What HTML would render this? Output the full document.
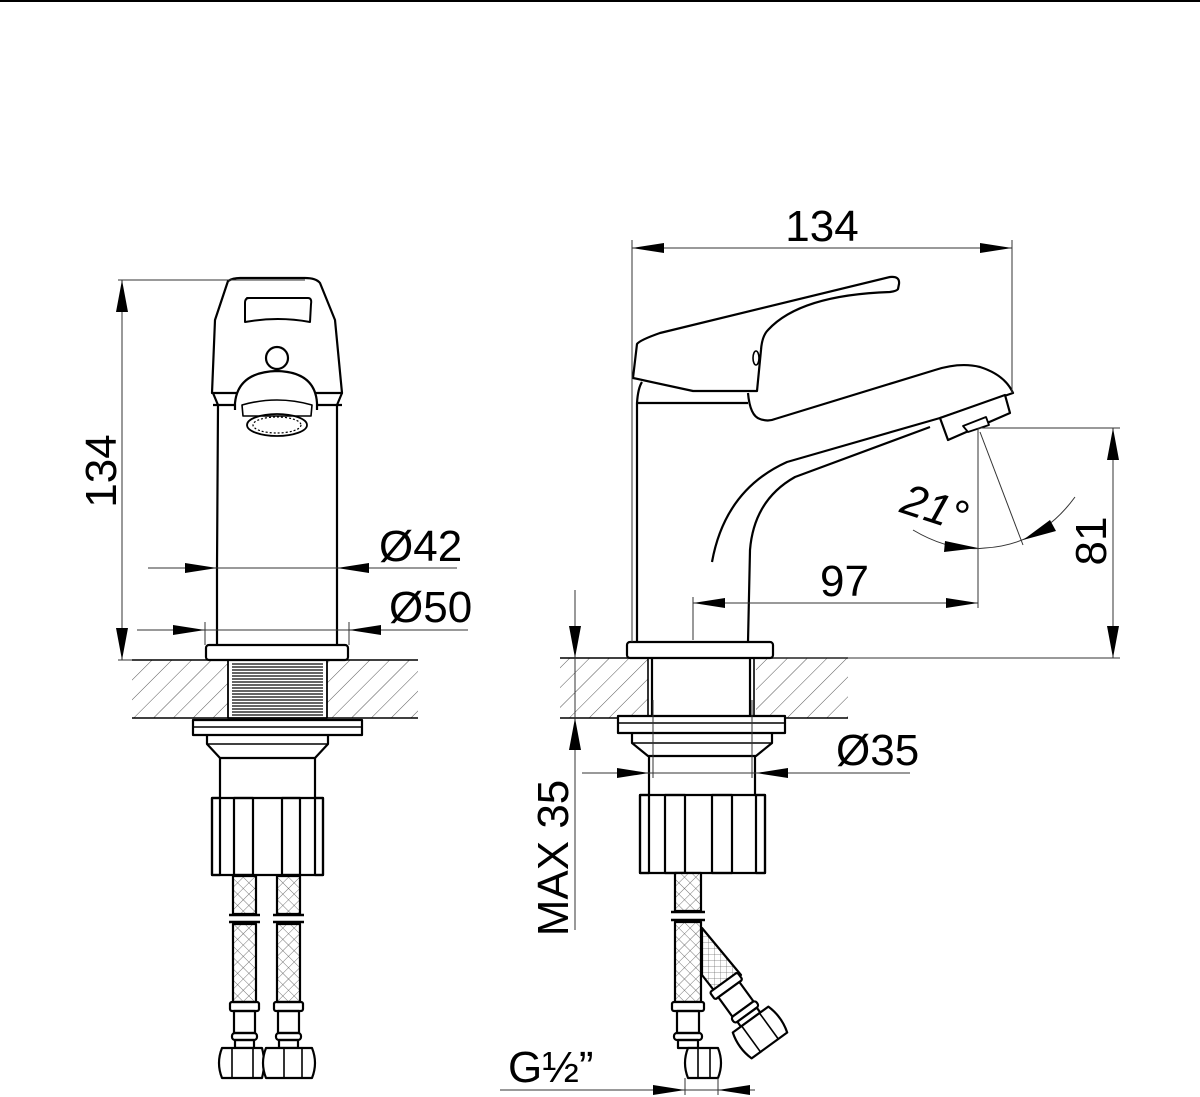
<!DOCTYPE html>
<html><head><meta charset="utf-8"><style>
html,body{margin:0;padding:0;background:#fff;}
svg{display:block;}
text{font-family:"Liberation Sans",sans-serif;fill:#000;}
</style></head><body>
<svg width="1200" height="1097" viewBox="0 0 1200 1097" xmlns="http://www.w3.org/2000/svg">
<defs>
<pattern id="hatch" width="14" height="14" patternUnits="userSpaceOnUse" patternTransform="rotate(45)">
<line x1="0" y1="0" x2="0" y2="14" stroke="#444" stroke-width="0.9"/>
</pattern>
<pattern id="mesh" width="8" height="8" patternUnits="userSpaceOnUse" patternTransform="rotate(45)">
<rect width="8" height="8" fill="#fff"/>
<line x1="0" y1="0" x2="0" y2="8" stroke="#555" stroke-width="0.8"/>
<line x1="0" y1="0" x2="8" y2="0" stroke="#555" stroke-width="0.8"/>
</pattern>
<pattern id="mesh2" width="6" height="6" patternUnits="userSpaceOnUse">
<rect width="6" height="6" fill="#fff"/>
<line x1="0" y1="0" x2="0" y2="6" stroke="#666" stroke-width="0.7"/>
<line x1="0" y1="0" x2="6" y2="0" stroke="#666" stroke-width="0.7"/>
</pattern>
<pattern id="thread" width="4" height="3" patternUnits="userSpaceOnUse">
<rect width="4" height="3" fill="#fff"/>
<line x1="0" y1="1" x2="4" y2="1" stroke="#222" stroke-width="1.4"/>
</pattern>
</defs>
<line x1="0" y1="1" x2="1200" y2="1" stroke="#000" stroke-width="2"/>

<g fill="none" stroke="#000" stroke-width="2.2" stroke-linejoin="round">
<!-- ============ LEFT VIEW ============ -->
<rect x="132" y="660" width="286" height="58" fill="url(#hatch)" stroke="none"/>
<line x1="132" y1="660" x2="418" y2="660" stroke-width="1.6"/>
<line x1="132" y1="718" x2="418" y2="718" stroke-width="1.6"/>
<rect x="228" y="660" width="99" height="58" fill="#fff" stroke-width="1.8"/>
<rect x="232" y="662" width="91" height="54" fill="url(#thread)" stroke="none"/>
<path d="M228,281 Q233,278 240,278 L305,278 Q316,278 320,283 L335,320 L342,393 L212,393 L215,320 Z" fill="#fff"/>
<path d="M247,298 L308,298 Q312,298 311,304 L310,322 Q278,316 245,322 L245,303 Q245,298 249,298 Z" stroke-width="2"/>
<circle cx="277" cy="358" r="11" fill="#fff"/>
<path d="M213,393 L218,405 L217,567 L217,645"/>
<path d="M342,393 L337,405 L337,567 L337,645"/>
<line x1="213" y1="405" x2="236" y2="405"/>
<line x1="318" y1="405" x2="342" y2="405"/>
<path d="M235,410 L235,403 Q238,372 277,371 Q315,372 317,403 L317,410" fill="#fff"/>
<path d="M242,405 Q277,395 312,405 L311,416 L243,416 Z" stroke-width="1.6"/>
<ellipse cx="277" cy="425" rx="30" ry="11" stroke-width="1.8"/>
<ellipse cx="277" cy="425" rx="24" ry="8" stroke-width="1.2" stroke-dasharray="2 2"/>
<rect x="206" y="645" width="142" height="15" rx="3" fill="#fff"/>
<rect x="193" y="720" width="169" height="15" fill="#fff"/>
<line x1="193" y1="727" x2="362" y2="727" stroke-width="1.4"/>
<path d="M207,735 L207,744 L220,758 L315,758 L328,744 L328,735"/>
<line x1="207" y1="744" x2="328" y2="744" stroke-width="1.6"/>
<line x1="220" y1="758" x2="220" y2="798"/>
<line x1="315" y1="758" x2="315" y2="798"/>
<rect x="212" y="798" width="111" height="77" fill="#fff"/>
<rect x="212" y="798" width="8" height="77"/>
<rect x="234" y="798" width="19" height="77"/>
<rect x="282" y="798" width="18" height="77"/>
<rect x="315" y="798" width="8" height="77"/>
<g>
<rect x="233" y="876" width="23" height="38" fill="url(#mesh)"/>
<rect x="277" y="876" width="23" height="38" fill="url(#mesh)"/>
<line x1="229" y1="915" x2="260" y2="915" stroke-width="2.5"/>
<line x1="273" y1="915" x2="304" y2="915" stroke-width="2.5"/>
<line x1="229" y1="922" x2="260" y2="922" stroke-width="2.5"/>
<line x1="273" y1="922" x2="304" y2="922" stroke-width="2.5"/>
<rect x="233" y="924" width="23" height="78" fill="url(#mesh)"/>
<rect x="277" y="924" width="23" height="78" fill="url(#mesh)"/>
<rect x="230" y="1002" width="29" height="9" rx="2"/>
<rect x="274" y="1002" width="29" height="9" rx="2"/>
<rect x="234" y="1011" width="21" height="22"/>
<rect x="278" y="1011" width="21" height="22"/>
<rect x="232" y="1033" width="25" height="7" rx="3"/>
<rect x="276" y="1033" width="25" height="7" rx="3"/>
<rect x="235" y="1040" width="19" height="8"/>
<rect x="279" y="1040" width="19" height="8"/>
<path d="M222,1048 L262,1048 Q266,1063 262,1078 L222,1078 Q216,1063 222,1048 Z" fill="#fff"/>
<path d="M266,1048 L312,1048 Q318,1063 312,1078 L266,1078 Q260,1063 266,1048 Z" fill="#fff"/>
<line x1="232" y1="1048" x2="232" y2="1078" stroke-width="1.6"/>
<line x1="253" y1="1048" x2="253" y2="1078" stroke-width="1.6"/>
<line x1="284" y1="1048" x2="284" y2="1078" stroke-width="1.6"/>
<line x1="302" y1="1048" x2="302" y2="1078" stroke-width="1.6"/>
</g>

<!-- ============ RIGHT VIEW ============ -->
<rect x="560" y="658" width="288" height="60" fill="url(#hatch)" stroke="none"/>
<line x1="560" y1="658" x2="848" y2="658" stroke-width="1.6"/>
<line x1="560" y1="718" x2="848" y2="718" stroke-width="1.6"/>
<rect x="648" y="658" width="108" height="60" fill="#fff" stroke="none"/>
<line x1="648" y1="658" x2="648" y2="718" stroke-width="1.6"/>
<line x1="652" y1="658" x2="652" y2="718"/>
<line x1="750" y1="658" x2="750" y2="718"/>
<line x1="754" y1="658" x2="754" y2="718" stroke-width="1.6"/>
<path d="M637,642 L637,403 Q638,388 642,382"/>
<line x1="637" y1="403" x2="748" y2="403"/>
<!-- spout -->
<path d="M748,393 Q750,416 760,419 Q768,422 775,419 L935,370 Q960,362 980,367 Q1005,375 1013,393 L940,418"/>
<path d="M940,418 L787,462 Q725,490 712,562"/>
<path d="M930,427 L795,477 Q754,500 750,550 L748,642"/>
<path d="M940,418 L1005,395 L1010,413 L948,440 Z" fill="#fff"/>
<path d="M963,426 L986,417 L989,425 L968,432 Z" fill="#fff" stroke-width="1.8"/>
<!-- handle -->
<path d="M637,344 Q640,340 660,333 L890,277 Q900,276 899,284 L898,289 Q897,291 890,292 Q800,295 768,330 Q762,336 761,350 L757,391 L693,391 L633,378 Z" fill="#fff"/>
<ellipse cx="756" cy="358" rx="3" ry="7" stroke-width="1.6"/>
<rect x="627" y="642" width="146" height="16" rx="3" fill="#fff"/>
<rect x="618" y="716" width="167" height="17" fill="#fff"/>
<line x1="618" y1="723" x2="785" y2="723" stroke-width="1.4"/>
<path d="M632,733 L632,743 L648,756 L756,756 L772,743 L772,733"/>
<line x1="632" y1="743" x2="772" y2="743" stroke-width="1.6"/>
<line x1="649" y1="756" x2="649" y2="795"/>
<line x1="755" y1="756" x2="755" y2="795"/>
<rect x="640" y="795" width="125" height="78" fill="#fff"/>
<rect x="640" y="795" width="9" height="78"/>
<rect x="665" y="795" width="20" height="78"/>
<rect x="712" y="795" width="20" height="78"/>
<rect x="756" y="795" width="9" height="78"/>
<path d="M702,928 L741,975 L716,993 L702,975 Z" fill="url(#mesh2)"/>
<rect x="675" y="873" width="26" height="38" fill="url(#mesh)"/>
<line x1="671" y1="912" x2="705" y2="912" stroke-width="2.5"/>
<line x1="671" y1="920" x2="705" y2="920" stroke-width="2.5"/>
<rect x="675" y="922" width="26" height="80" fill="url(#mesh)"/>
<g transform="translate(740,1005) rotate(-36)">
<rect x="-17" y="-28" width="34" height="9" rx="2" fill="#fff"/>
<rect x="-13" y="-19" width="26" height="24" fill="#fff"/>
<rect x="-15" y="5" width="30" height="7" rx="3" fill="#fff"/>
<rect x="-12" y="12" width="24" height="6" fill="#fff"/>
<path d="M-22,18 L22,18 Q27,34 22,50 L-22,50 Q-27,34 -22,18 Z" fill="#fff"/>
<line x1="-11" y1="18" x2="-11" y2="50" stroke-width="1.6"/>
<line x1="11" y1="18" x2="11" y2="50" stroke-width="1.6"/>
</g>
<rect x="672" y="1002" width="32" height="9" rx="2" fill="#fff"/>
<rect x="677" y="1011" width="22" height="22"/>
<rect x="674" y="1033" width="28" height="7" rx="3"/>
<rect x="678" y="1040" width="20" height="8"/>
<path d="M688,1048 L718,1048 Q724,1063 718,1078 L688,1078 Q682,1063 688,1048 Z" fill="#fff"/>
<line x1="698" y1="1048" x2="698" y2="1078" stroke-width="1.6"/>
<line x1="710" y1="1048" x2="710" y2="1078" stroke-width="1.6"/>
</g>

<!-- ============ DIMENSIONS ============ -->
<g stroke="#333" stroke-width="1" fill="none">
<line x1="122" y1="280" x2="122" y2="660"/>
<line x1="118" y1="280" x2="305" y2="280"/>
<line x1="118" y1="660" x2="132" y2="660"/>
<line x1="148" y1="568" x2="457" y2="568"/>
<line x1="137" y1="630" x2="468" y2="630"/>
<line x1="205" y1="622" x2="205" y2="645"/>
<line x1="349" y1="622" x2="349" y2="645"/>
<line x1="632" y1="248" x2="1012" y2="248"/>
<line x1="632" y1="240" x2="632" y2="642"/>
<line x1="1012" y1="240" x2="1012" y2="393"/>
<line x1="1113" y1="428" x2="1113" y2="658"/>
<line x1="978" y1="428" x2="1120" y2="428"/>
<line x1="773" y1="658" x2="1120" y2="658"/>
<line x1="978" y1="428" x2="978" y2="608"/>
<line x1="693" y1="603" x2="978" y2="603"/>
<line x1="693" y1="597" x2="693" y2="640"/>
<line x1="980" y1="432" x2="1023" y2="545"/>
<path d="M913,530 Q950,552 985,548 Q1040,545 1075,497"/>
<line x1="575" y1="590" x2="575" y2="930"/>
<line x1="582" y1="773" x2="910" y2="773"/>
<line x1="653" y1="700" x2="653" y2="778"/>
<line x1="752" y1="700" x2="752" y2="778"/>
<line x1="500" y1="1090" x2="755" y2="1090"/>
<line x1="685" y1="1078" x2="685" y2="1095"/>
<line x1="718" y1="1078" x2="718" y2="1095"/>
</g>
<g fill="#000" stroke="none">
<polygon points="122,280 116,312 128,312"/>
<polygon points="122,660 116,628 128,628"/>
<polygon points="217,568 185,563 185,573"/>
<polygon points="337,568 369,563 369,573"/>
<polygon points="205,630 173,625 173,635"/>
<polygon points="349,630 381,625 381,635"/>
<polygon points="632,248 664,243 664,253"/>
<polygon points="1012,248 980,243 980,253"/>
<polygon points="1113,428 1107,460 1119,460"/>
<polygon points="1113,658 1107,626 1119,626"/>
<polygon points="693,603 725,598 725,608"/>
<polygon points="978,603 946,598 946,608"/>
<polygon points="978,548 945,541 944,552"/>
<polygon points="1023,540 1050,520 1056,531"/>
<polygon points="575,658 569,626 581,626"/>
<polygon points="575,718 569,750 581,750"/>
<polygon points="649,773 617,768 617,778"/>
<polygon points="756,773 788,768 788,778"/>
<polygon points="685,1090 653,1085 653,1095"/>
<polygon points="718,1090 750,1085 750,1095"/>
</g>
<g font-size="44">
<text x="0" y="0" transform="translate(116,471) rotate(-90)" text-anchor="middle">134</text>
<text x="822" y="241" text-anchor="middle">134</text>
<text x="379" y="561">Ø42</text>
<text x="389" y="622">Ø50</text>
<text x="820" y="596">97</text>
<text x="0" y="0" transform="translate(1106,541) rotate(-90)" text-anchor="middle">81</text>
<text x="0" y="0" transform="translate(930,522) rotate(18)" text-anchor="middle" font-style="italic">21°</text>
<text x="0" y="0" transform="translate(568,858) rotate(-90)" text-anchor="middle">MAX 35</text>
<text x="836" y="765">Ø35</text>
<text x="508" y="1082">G½”</text>
</g>
</svg>
</body></html>
